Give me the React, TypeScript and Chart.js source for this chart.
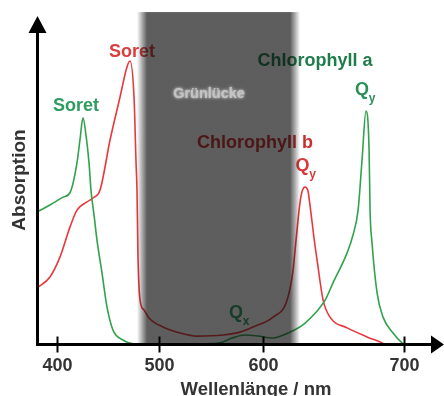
import React, { useEffect, useRef } from "react";
import { Chart, registerables, LinearScale } from "chart.js";

Chart.register(...registerables);

// ---- data ----
const wavelengthsA = [380.4, 393, 406, 413, 419.6, 422.5, 425.5, 428.4, 431.4, 433.3, 436.3, 439.2, 444.1, 449, 454.9, 464.7, 476.5, 500, 540, 558.7, 570.2, 582.7, 595.2, 606.4, 619.1, 629.8, 644, 649.6, 659.6, 663.8, 667.4, 670.2, 673, 675.2, 675.9, 677.3, 680.9, 685.1, 692.2, 698.6, 700];
const absorptionA = [0.466, 0.491, 0.519, 0.537, 0.64, 0.721, 0.799, 0.739, 0.64, 0.544, 0.456, 0.367, 0.251, 0.131, 0.049, 0.014, 0.0, 0.0, 0.0, 0.004, 0.021, 0.032, 0.028, 0.021, 0.042, 0.074, 0.155, 0.216, 0.322, 0.385, 0.473, 0.65, 0.823, 0.685, 0.473, 0.357, 0.18, 0.095, 0.039, 0.004, 0];

const wavelengthsB = [380.4, 393.1, 402.9, 412.7, 419.6, 429.4, 435.3, 442.2, 452, 461.8, 468.6, 471.6, 475.5, 477.5, 478.4, 479.4, 481.4, 485.3, 490.2, 503.8, 520.2, 536.5, 561.5, 577.9, 590.4, 607.1, 617, 621.3, 622.7, 624.8, 626.2, 627.7, 629.8, 631.9, 633.3, 634.6, 636, 638.3, 642.6, 647.5, 659.6, 673.8, 684.4, 686];
const absorptionB = [0.198, 0.237, 0.307, 0.413, 0.473, 0.502, 0.516, 0.544, 0.721, 0.873, 0.979, 1.0, 0.873, 0.64, 0.544, 0.307, 0.155, 0.12, 0.092, 0.06, 0.039, 0.028, 0.032, 0.042, 0.06, 0.095, 0.155, 0.261, 0.332, 0.438, 0.5, 0.54, 0.555, 0.54, 0.49, 0.438, 0.38, 0.297, 0.155, 0.095, 0.057, 0.025, 0.004, 0];

const tickValues = [400, 500, 600, 700];
const gapStart = 483.3; // Grünlücke
const gapEnd = 622.7;

// axis warp (the original wavelength axis is drawn non-uniformly)
const knotsNm = [400, 500, 600, 700];
const knotsU = [400, 500, 602, 740.2];

function warp(v: number): number {
  const n = knotsNm.length;
  if (v <= knotsNm[0]) {
    const s = (knotsU[1] - knotsU[0]) / (knotsNm[1] - knotsNm[0]);
    return knotsU[0] + (v - knotsNm[0]) * s;
  }
  for (let i = 0; i < n - 1; i++) {
    if (v <= knotsNm[i + 1]) {
      const s = (knotsU[i + 1] - knotsU[i]) / (knotsNm[i + 1] - knotsNm[i]);
      return knotsU[i] + (v - knotsNm[i]) * s;
    }
  }
  const s = (knotsU[n - 1] - knotsU[n - 2]) / (knotsNm[n - 1] - knotsNm[n - 2]);
  return knotsU[n - 1] + (v - knotsNm[n - 1]) * s;
}
function unwarp(u: number): number {
  const n = knotsU.length;
  if (u <= knotsU[0]) {
    const s = (knotsNm[1] - knotsNm[0]) / (knotsU[1] - knotsU[0]);
    return knotsNm[0] + (u - knotsU[0]) * s;
  }
  for (let i = 0; i < n - 1; i++) {
    if (u <= knotsU[i + 1]) {
      const s = (knotsNm[i + 1] - knotsNm[i]) / (knotsU[i + 1] - knotsU[i]);
      return knotsNm[i] + (u - knotsU[i]) * s;
    }
  }
  const s = (knotsNm[n - 1] - knotsNm[n - 2]) / (knotsU[n - 1] - knotsU[n - 2]);
  return knotsNm[n - 1] + (u - knotsU[n - 1]) * s;
}

class WarpScale extends LinearScale {
  static id = "warp";
  static defaults = (LinearScale as any).defaults;
  getPixelForValue(value: any) {
    return super.getPixelForValue(warp(value));
  }
  getValueForPixel(pixel: number) {
    return unwarp(super.getValueForPixel(pixel) as number);
  }
}
Chart.register(WarpScale as any);

const FONT = '"Liberation Sans", Arial, Helvetica, sans-serif';

type Lbl = { text: string; nm: number; a: number; color: string; sub?: string };
const labels: Lbl[] = [
  { text: "Soret", nm: 473.5, a: 1.032, color: "#d8403f" },
  { text: "Soret", nm: 418.6, a: 0.841, color: "#2e9c5e" },
  { text: "Chlorophyll a", nm: 636.9, a: 1.0, color: "#1f7d4b" },
  { text: "Chlorophyll b", nm: 592.3, a: 0.71, color: "#c8302e" },
  { text: "Q", sub: "y", nm: 628.0, a: 0.629, color: "#d83a3a" },
  { text: "Q", sub: "y", nm: 670.2, a: 0.898, color: "#2a9058" },
  { text: "Q", sub: "x", nm: 574.0, a: 0.11, color: "#2f9a60" },
];

const overlayPlugin = {
  id: "overlay",
  afterDatasetsDraw(chart: any) {
    const ctx: CanvasRenderingContext2D = chart.ctx;
    const xs = chart.scales.x;
    const ys = chart.scales.y;
    const area = chart.chartArea;
    ctx.save();

    // annotation labels
    ctx.textBaseline = "middle";
    ctx.textAlign = "center";
    for (const l of labels) {
      const px = xs.getPixelForValue(l.nm);
      const py = ys.getPixelForValue(l.a);
      ctx.fillStyle = l.color;
      ctx.font = `bold 18px ${FONT}`;
      ctx.fillText(l.text, px, py);
      if (l.sub) {
        ctx.font = `bold 12px ${FONT}`;
        ctx.fillText(l.sub, px + 10, py + 9);
      }
    }

    // Grünlücke band
    const xl = xs.getPixelForValue(gapStart);
    const xr = xs.getPixelForValue(gapEnd);
    const top = ys.getPixelForValue(1.173);
    const bottom = area.bottom;
    const fade = 5;
    const g = ctx.createLinearGradient(xl - fade, 0, xr + fade, 0);
    const w = xr - xl + 2 * fade;
    const col = "10,10,10";
    const al = 0.66;
    g.addColorStop(0, `rgba(${col},0)`);
    g.addColorStop((2 * fade) / w, `rgba(${col},${al})`);
    g.addColorStop(1 - (2 * fade) / w, `rgba(${col},${al})`);
    g.addColorStop(1, `rgba(${col},0)`);
    ctx.fillStyle = g;
    ctx.fillRect(xl - fade, top, w, bottom - top);

    // Grünlücke text
    ctx.save();
    ctx.font = `bold 14.5px ${FONT}`;
    ctx.fillStyle = "#c4c4c4";
    ctx.shadowColor = "rgba(255,255,255,0.95)";
    ctx.shadowBlur = 3;
    ctx.fillText("Grünlücke", xs.getPixelForValue(548.1), ys.getPixelForValue(0.883));
    ctx.restore();

    // axes
    const ax = area.left + 0.5;
    const ay = area.bottom + 0.5;
    ctx.strokeStyle = "#000";
    ctx.fillStyle = "#000";
    ctx.lineWidth = 3;
    ctx.beginPath();
    ctx.moveTo(ax, ay + 1.5);
    ctx.lineTo(ax, 30);
    ctx.moveTo(ax - 1.5, ay);
    ctx.lineTo(chart.width - 12, ay);
    ctx.stroke();
    // arrowheads
    ctx.beginPath();
    ctx.moveTo(ax, 16);
    ctx.lineTo(ax - 9, 33);
    ctx.lineTo(ax + 9, 33);
    ctx.closePath();
    ctx.fill();
    ctx.beginPath();
    ctx.moveTo(chart.width, ay);
    ctx.lineTo(chart.width - 13, ay - 9);
    ctx.lineTo(chart.width - 13, ay + 9);
    ctx.closePath();
    ctx.fill();

    // ticks
    ctx.lineWidth = 2;
    ctx.fillStyle = "#333";
    ctx.font = `bold 18px ${FONT}`;
    ctx.textAlign = "center";
    ctx.textBaseline = "middle";
    for (const t of tickValues) {
      const px = Math.round(xs.getPixelForValue(t)) + 0.5;
      ctx.beginPath();
      ctx.moveTo(px, ay - 8);
      ctx.lineTo(px, ay + 8);
      ctx.stroke();
      ctx.fillText(String(t), px, ay + 22);
    }

    // axis titles
    ctx.font = `bold 18.5px ${FONT}`;
    ctx.fillText("Wellenlänge / nm", area.left + 219, ay + 45);
    ctx.save();
    ctx.translate(20, 180);
    ctx.rotate(-Math.PI / 2);
    ctx.font = `bold 19px ${FONT}`;
    ctx.fillText("Absorption", 0, 0);
    ctx.restore();

    ctx.restore();
  },
};

export default function App() {
  const ref = useRef<HTMLCanvasElement | null>(null);
  useEffect(() => {
    if (!ref.current) return;
    const chart = new Chart(ref.current, {
      type: "line",
      data: {
        datasets: [
          {
            label: "Chlorophyll a",
            data: wavelengthsA.map((x, i) => ({ x, y: absorptionA[i] })),
            borderColor: "#31a24c",
            borderWidth: 1.6,
            pointRadius: 0,
            cubicInterpolationMode: "monotone",
            clip: false as any,
          },
          {
            label: "Chlorophyll b",
            data: wavelengthsB.map((x, i) => ({ x, y: absorptionB[i] })),
            borderColor: "#e8383d",
            borderWidth: 1.6,
            pointRadius: 0,
            cubicInterpolationMode: "monotone",
            clip: false as any,
          },
        ],
      },
      options: {
        animation: false,
        responsive: true,
        maintainAspectRatio: false,
        layout: { padding: { left: 37, right: 12, top: 20, bottom: 52 } },
        plugins: { legend: { display: false }, tooltip: { enabled: false } },
        scales: {
          x: { type: "warp" as any, min: 380.4, max: 767.6, display: false },
          y: { type: "linear", min: 0, max: 1.145, display: false },
        },
      },
      plugins: [overlayPlugin],
    });
    return () => chart.destroy();
  }, []);
  return (
    <div style={{ position: "fixed", left: 0, top: 0, width: 444, height: 396, background: "#fff" }}>
      <canvas ref={ref} />
    </div>
  );
}
